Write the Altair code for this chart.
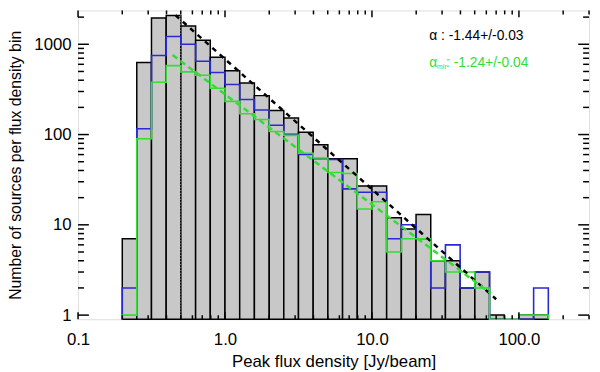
import altair as alt
import pandas as pd

# ---------------- data ----------------
# histogram bin edges (Jy/beam), 0.1 dex bins
edges = [0.2, 0.251, 0.316, 0.398, 0.501, 0.631, 0.794, 1.0, 1.259, 1.585,
         2.0, 2.512, 3.162, 3.981, 5.012, 6.31, 7.943, 10.0, 12.59, 15.85,
         19.95, 25.12, 31.62, 39.81, 50.12, 63.1, 79.43, 100.0, 125.9, 158.5]
# all sources (grey bars)
gray_counts = [7, 630, 1960, 2090, 1590, 1110, 718, 509, 373, 270,
               185, 153, 106, 77, 54, 54, 27, 27, 12, 9,
               13, 4, 4, 2, 3, 1, 0, 1, 1]
# blue histogram
blue_counts = [2, 116, 750, 1220, 1000, 650, 488, 358, 245, 187,
               127, 101, 60, 54, 53, 25, 23, 23, 7, 10,
               7, 2, 6, 2, 3, 0, 0, 0, 2]
# green histogram
green_counts = [1, 90, 380, 580, 495, 453, 326, 233, 170, 147,
                108, 98, 62, 55, 38, 37, 15, 18, 5, 7,
                7, 4, 3, 3, 2, 0, 0, 1, 1]
# power-law fits (end points)
fit_x = [0.46, 70.0]
fit_y = [2100, 1.5]
fit_mir_x = [0.44, 64.0]
fit_mir_y = [760, 1.75]
# completeness limit marker
limit_x = 0.5
limit_top = 2090

x_tick_labels = [0.1, 1.0, 10.0, 100.0]
y_tick_labels = [1, 10, 100, 1000]
alpha_text = "\u03b1 : -1.44+/-0.03"
alpha_mir_sym = "\u03b1"
alpha_mir_sub = "mir"
alpha_mir_text = ": -1.24+/-0.04"

x_title = "Peak flux density [Jy/beam]"
y_title = "Number of sources per flux density bin"

# ---------------- layout / style ----------------
W, H = 518, 313
YMIN, YMAX = 0.9, 2370
FONT = "Liberation Sans"
GRAY = "#c8c8c8"
BLUE = "#2a2ad0"
GREEN = "#33dd33"

xscale = alt.Scale(type="log", domain=[0.1, 300], nice=False)
yscale = alt.Scale(type="log", domain=[YMIN, YMAX], nice=False)

xax = alt.Axis(values=x_tick_labels, format=".1f", ticks=False, domain=False, grid=False,
               labelFont=FONT, labelFontSize=17, labelColor="black", labelPadding=13,
               labelFlush=False, labelOverlap=False, titleFont=FONT, titleFontSize=17,
               titleFontWeight="normal", titleColor="black", titlePadding=6)
yax = alt.Axis(values=y_tick_labels, format="d", ticks=False, domain=False, grid=False,
               labelFont=FONT, labelFontSize=17, labelColor="black", labelPadding=7,
               labelOverlap=False, titleFont=FONT, titleFontSize=16,
               titleFontWeight="normal", titleColor="black", titlePadding=10)


def X(field):
    return alt.X(field, type="quantitative", scale=xscale, axis=xax, title=x_title)


def Y(field):
    return alt.Y(field, type="quantitative", scale=yscale, axis=yax, title=y_title)


# grey bars
bars_df = pd.DataFrame({"lo": edges[:-1], "hi": edges[1:], "n": gray_counts})
bars_df = bars_df[bars_df["n"] > 0]
bars = alt.Chart(bars_df).mark_rect(fill=GRAY, stroke="black", strokeWidth=1.5).encode(
    x=X("lo"), x2="hi", y=Y("n"), y2=alt.value(H)
)


def step_df(vals):
    rows = [{"x": edges[0], "y": YMIN, "o": 0}]
    k = 1
    for lo, hi, v in zip(edges[:-1], edges[1:], vals):
        vv = v if v > 0 else YMIN
        rows.append({"x": lo, "y": vv, "o": k})
        rows.append({"x": hi, "y": vv, "o": k + 1})
        k += 2
    rows.append({"x": edges[-1], "y": YMIN, "o": k})
    return pd.DataFrame(rows)


blue_line = alt.Chart(step_df(blue_counts)).mark_line(color=BLUE, strokeWidth=1.6).encode(
    x=X("x"), y=Y("y"), order="o:Q")
green_line = alt.Chart(step_df(green_counts)).mark_line(color=GREEN, strokeWidth=1.6).encode(
    x=X("x"), y=Y("y"), order="o:Q")

limit = alt.Chart(pd.DataFrame({"x": [limit_x], "y": [limit_top]})).mark_rule(
    color="#999999", strokeWidth=1, strokeDash=[1, 2]).encode(
    x=X("x"), y=Y("y"), y2=alt.value(H))

fit = alt.Chart(pd.DataFrame({"x": fit_x, "y": fit_y})).mark_line(
    color="black", strokeWidth=2.5, strokeDash=[5, 5]).encode(x=X("x"), y=Y("y"))
fit_mir = alt.Chart(pd.DataFrame({"x": fit_mir_x, "y": fit_mir_y})).mark_line(
    color=GREEN, strokeWidth=2.5, strokeDash=[6, 4]).encode(x=X("x"), y=Y("y"))

# inward ticks on all four sides
x_minor = [m * 10.0 ** e for e in range(-1, 3) for m in range(2, 10) if m * 10.0 ** e <= 300]
y_minor = [m * 10.0 ** e for e in range(0, 4) for m in range(2, 10) if m * 10.0 ** e <= YMAX]
tick_layers = []
for vals, ln in [(x_tick_labels, 7), (x_minor, 4)]:
    d = pd.DataFrame({"x": vals})
    tick_layers.append(alt.Chart(d).mark_rule(color="black", strokeWidth=1.5).encode(
        x=X("x"), y=alt.value(H), y2=alt.value(H - ln)))
    tick_layers.append(alt.Chart(d).mark_rule(color="black", strokeWidth=1.5).encode(
        x=X("x"), y=alt.value(0), y2=alt.value(ln)))
for vals, ln in [(y_tick_labels, 11), (y_minor, 6)]:
    d = pd.DataFrame({"y": vals})
    tick_layers.append(alt.Chart(d).mark_rule(color="black", strokeWidth=1.5).encode(
        y=Y("y"), x=alt.value(0), x2=alt.value(ln)))
    tick_layers.append(alt.Chart(d).mark_rule(color="black", strokeWidth=1.5).encode(
        y=Y("y"), x=alt.value(W), x2=alt.value(W - ln)))

# annotation texts
t1 = alt.Chart(pd.DataFrame({"t": [alpha_text]})).mark_text(
    align="left", baseline="alphabetic", font=FONT, fontSize=14, color="black").encode(
    x=alt.value(356), y=alt.value(30), text="t:N")
t2 = alt.Chart(pd.DataFrame({"t": [alpha_mir_sym]})).mark_text(
    align="left", baseline="alphabetic", font=FONT, fontSize=14, color=GREEN).encode(
    x=alt.value(356), y=alt.value(57), text="t:N")
t3 = alt.Chart(pd.DataFrame({"t": [alpha_mir_sub]})).mark_text(
    align="left", baseline="alphabetic", font=FONT, fontSize=7, color=GREEN).encode(
    x=alt.value(364), y=alt.value(59), text="t:N")
t4 = alt.Chart(pd.DataFrame({"t": [alpha_mir_text]})).mark_text(
    align="left", baseline="alphabetic", font=FONT, fontSize=14, color=GREEN).encode(
    x=alt.value(373), y=alt.value(57), text="t:N")

chart = alt.layer(bars, limit, blue_line, green_line, fit, fit_mir, *tick_layers, t1, t2, t3, t4).properties(
    width=W, height=H,
    autosize=alt.AutoSizeParams(type="none"),
    padding={"left": 71, "top": 0, "right": 3, "bottom": 51},
).configure_view(stroke="black", strokeWidth=2).configure(font=FONT)

chart.save("out.html", embed_options={"renderer": "svg", "actions": False})
